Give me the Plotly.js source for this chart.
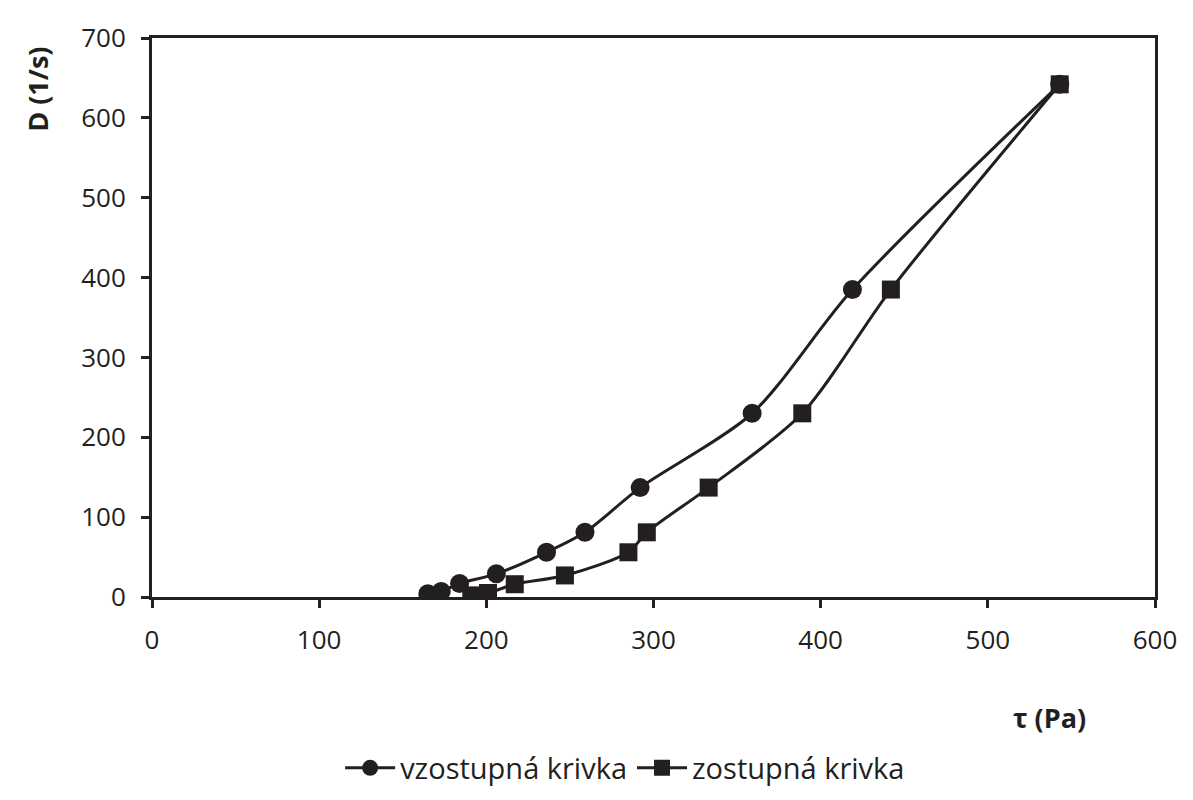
<!DOCTYPE html>
<html>
<head>
<meta charset="utf-8">
<script src="https://cdn.plot.ly/plotly-3.0.1.min.js"></script>
<style>
  html, body { margin: 0; padding: 0; background: #fff; }
  #chart { width: 1193px; height: 800px; }
</style>
</head>
<body>
<div id="chart"></div>
<script>
// vzostupná krivka (up curve)
const upTau = [165, 173, 184, 206, 236, 259, 292, 359, 419, 543];
const upD = [4, 7, 17, 29, 56, 81, 137, 230, 385, 642];

// zostupná krivka (down curve)
const downTau = [191, 201, 217, 247, 285, 296, 333, 389, 442, 543];
const downD = [2, 5, 16, 27, 56, 81, 137, 230, 385, 642];

const xTicks = [0, 100, 200, 300, 400, 500, 600];
const yTicks = [0, 100, 200, 300, 400, 500, 600, 700];

const ink = '#231f20';
const font = 'Open Sans, Noto Sans, sans-serif';

const upTrace = {
  x: upTau,
  y: upD,
  mode: 'lines+markers',
  name: 'vzostupná krivka',
  line: { color: ink, width: 3, shape: 'spline', smoothing: 0.8 },
  marker: { symbol: 'circle', size: 19, color: ink },
};

const downTrace = {
  x: downTau,
  y: downD,
  mode: 'lines+markers',
  name: 'zostupná krivka',
  line: { color: ink, width: 3, shape: 'spline', smoothing: 0.8 },
  marker: { symbol: 'square', size: 18, color: ink },
};

const axisBase = {
  showgrid: false,
  zeroline: false,
  showline: true,
  mirror: true,
  linecolor: ink,
  linewidth: 3,
  ticks: 'outside',
  ticklen: 8,
  tickwidth: 3,
  tickcolor: ink,
  automargin: false,
  tickfont: { family: font, size: 26, color: ink },
};

const layout = {
  width: 1193,
  height: 800,
  margin: { l: 152, r: 38, t: 38, b: 203 },
  paper_bgcolor: '#fff',
  plot_bgcolor: '#fff',
  showlegend: true,
  legend: {
    orientation: 'h',
    xref: 'container', yref: 'container',
    x: 0.524, xanchor: 'center',
    y: 0.04, yanchor: 'middle',
    font: { family: font, size: 29, color: ink },
    itemwidth: 50,
    tracegroupgap: 0,
  },
  xaxis: Object.assign({}, axisBase, {
    range: [0, 600],
    tickvals: xTicks,
    ticklabelstandoff: 10,
  }),
  yaxis: Object.assign({}, axisBase, {
    range: [0, 700],
    tickvals: yTicks,
    ticklabelstandoff: 10,
  }),
  annotations: [
    {
      text: '<b>D (1/s)</b>',
      xref: 'paper', yref: 'paper',
      x: -0.1137, y: 0.909,
      xanchor: 'center', yanchor: 'middle',
      textangle: -90,
      showarrow: false,
      font: { family: font, size: 27, color: ink },
    },
    {
      text: '<b>τ (Pa)</b>',
      xref: 'paper', yref: 'paper',
      x: 0.895, y: -0.216,
      xanchor: 'center', yanchor: 'middle',
      showarrow: false,
      font: { family: font, size: 27, color: ink },
    },
  ],
};

Plotly.newPlot('chart', [upTrace, downTrace], layout, { displayModeBar: false });
</script>
</body>
</html>
